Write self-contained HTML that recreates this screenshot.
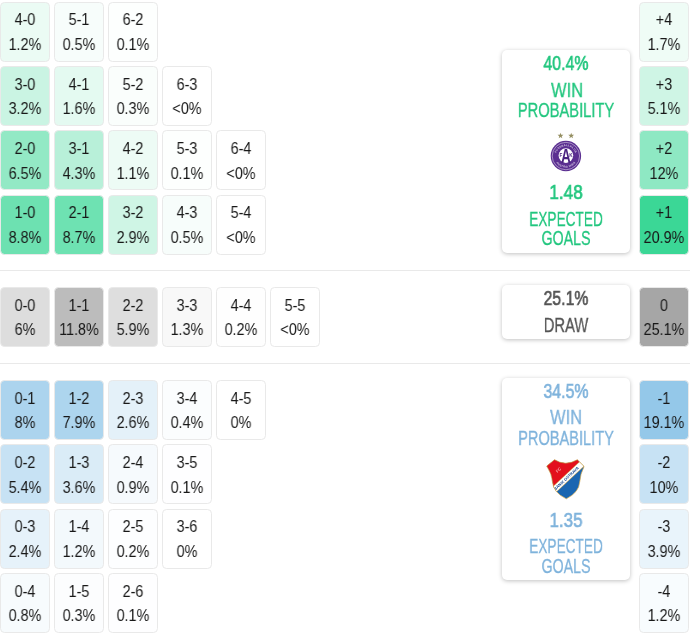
<!DOCTYPE html>
<html lang="en">
<head>
<meta charset="utf-8">
<title>Score probabilities</title>
<style>
html,body{margin:0;padding:0;background:#fff;}
body{width:690px;height:633px;position:relative;overflow:hidden;font-family:"Liberation Sans",sans-serif;color:#181818;}
.c{position:absolute;box-sizing:border-box;border:1px solid #e9e9e9;border-radius:4.5px;background-clip:padding-box;text-align:center;overflow:hidden;}
.c span{will-change:transform;display:block;position:absolute;left:-10px;right:-10px;font-size:16.9px;line-height:20px;transform:scaleX(.85);transform-origin:50% 50%;white-space:nowrap;}
.c .s{top:7.65px;}
.c .p{top:32.35px;}
.hr{position:absolute;left:0;width:690px;height:1px;background:#e9e9e9;}
.box{position:absolute;box-sizing:border-box;background:#fff;border-radius:5px;box-shadow:0 1px 4px rgba(0,0,0,.25);text-align:center;}
.box span{will-change:transform;display:block;position:absolute;width:200px;white-space:nowrap;transform-origin:50% 50%;line-height:22px;}
.box .n{font-weight:normal;font-size:19.6px;-webkit-text-stroke:0.65px currentColor;}
.box .t{font-size:19.6px;-webkit-text-stroke:0.3px currentColor;}
.g{color:#21c67e;}
.b{color:#7fb3dc;}
.k{color:#555;}
.logo{position:absolute;will-change:transform;}
</style>
</head>
<body>
<div class="c" style="left:0.3px;top:1.6px;width:49.9px;height:60.1px;background:rgb(235,251,244)"><span class="s">4-0</span><span class="p">1.2%</span></div>
<div class="c" style="left:54.3px;top:1.6px;width:49.9px;height:60.1px;background:rgb(247,253,251)"><span class="s">5-1</span><span class="p">0.5%</span></div>
<div class="c" style="left:108.2px;top:1.6px;width:49.9px;height:60.1px;background:rgb(253,255,254)"><span class="s">6-2</span><span class="p">0.1%</span></div>
<div class="c" style="left:0.3px;top:65.9px;width:49.9px;height:60.1px;background:rgb(202,244,227)"><span class="s">3-0</span><span class="p">3.2%</span></div>
<div class="c" style="left:54.3px;top:65.9px;width:49.9px;height:60.1px;background:rgb(228,250,241)"><span class="s">4-1</span><span class="p">1.6%</span></div>
<div class="c" style="left:108.2px;top:65.9px;width:49.9px;height:60.1px;background:rgb(250,254,252)"><span class="s">5-2</span><span class="p">0.3%</span></div>
<div class="c" style="left:162.2px;top:65.9px;width:49.9px;height:60.1px;background:rgb(255,255,255)"><span class="s">6-3</span><span class="p">&lt;0%</span></div>
<div class="c" style="left:0.3px;top:130.2px;width:49.9px;height:60.1px;background:rgb(147,233,197)"><span class="s">2-0</span><span class="p">6.5%</span></div>
<div class="c" style="left:54.3px;top:130.2px;width:49.9px;height:60.1px;background:rgb(184,240,217)"><span class="s">3-1</span><span class="p">4.3%</span></div>
<div class="c" style="left:108.2px;top:130.2px;width:49.9px;height:60.1px;background:rgb(237,251,245)"><span class="s">4-2</span><span class="p">1.1%</span></div>
<div class="c" style="left:162.2px;top:130.2px;width:49.9px;height:60.1px;background:rgb(253,255,254)"><span class="s">5-3</span><span class="p">0.1%</span></div>
<div class="c" style="left:216.2px;top:130.2px;width:49.9px;height:60.1px;background:rgb(255,255,255)"><span class="s">6-4</span><span class="p">&lt;0%</span></div>
<div class="c" style="left:0.3px;top:194.6px;width:49.9px;height:60.1px;background:rgb(109,225,177)"><span class="s">1-0</span><span class="p">8.8%</span></div>
<div class="c" style="left:54.3px;top:194.6px;width:49.9px;height:60.1px;background:rgb(110,226,178)"><span class="s">2-1</span><span class="p">8.7%</span></div>
<div class="c" style="left:108.2px;top:194.6px;width:49.9px;height:60.1px;background:rgb(207,245,229)"><span class="s">3-2</span><span class="p">2.9%</span></div>
<div class="c" style="left:162.2px;top:194.6px;width:49.9px;height:60.1px;background:rgb(247,253,251)"><span class="s">4-3</span><span class="p">0.5%</span></div>
<div class="c" style="left:216.2px;top:194.6px;width:49.9px;height:60.1px;background:rgb(255,255,255)"><span class="s">5-4</span><span class="p">&lt;0%</span></div>
<div class="c" style="left:0.3px;top:286.9px;width:49.9px;height:60.1px;background:rgb(221,221,221)"><span class="s">0-0</span><span class="p">6%</span></div>
<div class="c" style="left:54.3px;top:286.9px;width:49.9px;height:60.1px;background:rgb(188,188,188)"><span class="s">1-1</span><span class="p">11.8%</span></div>
<div class="c" style="left:108.2px;top:286.9px;width:49.9px;height:60.1px;background:rgb(222,222,222)"><span class="s">2-2</span><span class="p">5.9%</span></div>
<div class="c" style="left:162.2px;top:286.9px;width:49.9px;height:60.1px;background:rgb(248,248,248)"><span class="s">3-3</span><span class="p">1.3%</span></div>
<div class="c" style="left:216.2px;top:286.9px;width:49.9px;height:60.1px;background:rgb(254,254,254)"><span class="s">4-4</span><span class="p">0.2%</span></div>
<div class="c" style="left:270.2px;top:286.9px;width:49.9px;height:60.1px;background:rgb(255,255,255)"><span class="s">5-5</span><span class="p">&lt;0%</span></div>
<div class="c" style="left:0.3px;top:380.1px;width:49.9px;height:60.1px;background:rgb(172,212,238)"><span class="s">0-1</span><span class="p">8%</span></div>
<div class="c" style="left:54.3px;top:380.1px;width:49.9px;height:60.1px;background:rgb(173,213,238)"><span class="s">1-2</span><span class="p">7.9%</span></div>
<div class="c" style="left:108.2px;top:380.1px;width:49.9px;height:60.1px;background:rgb(228,241,249)"><span class="s">2-3</span><span class="p">2.6%</span></div>
<div class="c" style="left:162.2px;top:380.1px;width:49.9px;height:60.1px;background:rgb(251,253,254)"><span class="s">3-4</span><span class="p">0.4%</span></div>
<div class="c" style="left:216.2px;top:380.1px;width:49.9px;height:60.1px;background:rgb(255,255,255)"><span class="s">4-5</span><span class="p">0%</span></div>
<div class="c" style="left:0.3px;top:444.4px;width:49.9px;height:60.1px;background:rgb(199,226,244)"><span class="s">0-2</span><span class="p">5.4%</span></div>
<div class="c" style="left:54.3px;top:444.4px;width:49.9px;height:60.1px;background:rgb(218,236,247)"><span class="s">1-3</span><span class="p">3.6%</span></div>
<div class="c" style="left:108.2px;top:444.4px;width:49.9px;height:60.1px;background:rgb(246,250,253)"><span class="s">2-4</span><span class="p">0.9%</span></div>
<div class="c" style="left:162.2px;top:444.4px;width:49.9px;height:60.1px;background:rgb(254,254,255)"><span class="s">3-5</span><span class="p">0.1%</span></div>
<div class="c" style="left:0.3px;top:508.8px;width:49.9px;height:60.1px;background:rgb(230,242,250)"><span class="s">0-3</span><span class="p">2.4%</span></div>
<div class="c" style="left:54.3px;top:508.8px;width:49.9px;height:60.1px;background:rgb(243,249,252)"><span class="s">1-4</span><span class="p">1.2%</span></div>
<div class="c" style="left:108.2px;top:508.8px;width:49.9px;height:60.1px;background:rgb(253,254,255)"><span class="s">2-5</span><span class="p">0.2%</span></div>
<div class="c" style="left:162.2px;top:508.8px;width:49.9px;height:60.1px;background:rgb(255,255,255)"><span class="s">3-6</span><span class="p">0%</span></div>
<div class="c" style="left:0.3px;top:573.1px;width:49.9px;height:60.1px;background:rgb(247,251,253)"><span class="s">0-4</span><span class="p">0.8%</span></div>
<div class="c" style="left:54.3px;top:573.1px;width:49.9px;height:60.1px;background:rgb(252,253,254)"><span class="s">1-5</span><span class="p">0.3%</span></div>
<div class="c" style="left:108.2px;top:573.1px;width:49.9px;height:60.1px;background:rgb(254,254,255)"><span class="s">2-6</span><span class="p">0.1%</span></div>
<div class="c" style="left:639.1px;top:1.6px;width:49.9px;height:60.1px;background:rgb(239,252,246)"><span class="s">+4</span><span class="p">1.7%</span></div>
<div class="c" style="left:639.1px;top:65.9px;width:49.9px;height:60.1px;background:rgb(207,245,229)"><span class="s">+3</span><span class="p">5.1%</span></div>
<div class="c" style="left:639.1px;top:130.2px;width:49.9px;height:60.1px;background:rgb(142,232,195)"><span class="s">+2</span><span class="p">12%</span></div>
<div class="c" style="left:639.1px;top:194.6px;width:49.9px;height:60.1px;background:rgb(59,215,150)"><span class="s">+1</span><span class="p">20.9%</span></div>
<div class="c" style="left:639.1px;top:286.9px;width:49.9px;height:60.1px;background:rgb(166,166,166)"><span class="s">0</span><span class="p">25.1%</span></div>
<div class="c" style="left:639.1px;top:380.1px;width:49.9px;height:60.1px;background:rgb(148,200,233)"><span class="s">-1</span><span class="p">19.1%</span></div>
<div class="c" style="left:639.1px;top:444.4px;width:49.9px;height:60.1px;background:rgb(199,226,244)"><span class="s">-2</span><span class="p">10%</span></div>
<div class="c" style="left:639.1px;top:508.8px;width:49.9px;height:60.1px;background:rgb(233,244,251)"><span class="s">-3</span><span class="p">3.9%</span></div>
<div class="c" style="left:639.1px;top:573.1px;width:49.9px;height:60.1px;background:rgb(248,252,254)"><span class="s">-4</span><span class="p">1.2%</span></div>

<div class="hr" style="top:270px"></div>
<div class="hr" style="top:363px"></div>

<div class="box g" style="left:501.6px;top:50.0px;width:128.6px;height:202.5px">
<span class="n" style="left:-35.73px;top:2.13px;transform:scaleX(0.811)">40.4%</span>
<span class="t" style="left:-35.05px;top:28.93px;transform:scaleX(0.842)">WIN</span>
<span class="t" style="left:-35.56px;top:48.93px;transform:scaleX(0.750)">PROBABILITY</span>
<span class="n" style="left:-35.44px;top:131.13px;transform:scaleX(0.875)">1.48</span>
<span class="t" style="left:-35.36px;top:157.93px;transform:scaleX(0.697)">EXPECTED</span>
<span class="t" style="left:-35.34px;top:177.33px;transform:scaleX(0.725)">GOALS</span>
</div>
<div class="box k" style="left:501.6px;top:285.0px;width:128.6px;height:53.8px">
<span class="n" style="left:-35.69px;top:2.23px;transform:scaleX(0.806)">25.1%</span>
<span class="t" style="left:-35.99px;top:28.53px;transform:scaleX(0.754)">DRAW</span>
</div>
<div class="box b" style="left:501.6px;top:377.5px;width:128.6px;height:202.8px">
<span class="n" style="left:-35.86px;top:2.33px;transform:scaleX(0.812)">34.5%</span>
<span class="t" style="left:-35.61px;top:28.43px;transform:scaleX(0.840)">WIN</span>
<span class="t" style="left:-35.76px;top:49.13px;transform:scaleX(0.744)">PROBABILITY</span>
<span class="n" style="left:-35.64px;top:131.03px;transform:scaleX(0.864)">1.35</span>
<span class="t" style="left:-35.36px;top:157.73px;transform:scaleX(0.697)">EXPECTED</span>
<span class="t" style="left:-35.34px;top:177.63px;transform:scaleX(0.725)">GOALS</span>
</div>

<svg class="logo" style="left:545px;top:128px" width="42" height="48" viewBox="0 0 42 48">
<polygon points="15.50,4.70 16.26,6.75 18.45,6.84 16.74,8.20 17.32,10.31 15.50,9.10 13.68,10.31 14.26,8.20 12.55,6.84 14.74,6.75" fill="#958f62"/>
<polygon points="26.20,4.70 26.96,6.75 29.15,6.84 27.44,8.20 28.02,10.31 26.20,9.10 24.38,10.31 24.96,8.20 23.25,6.84 25.44,6.75" fill="#958f62"/>
<circle cx="20.9" cy="28.05" r="15.2" fill="#5b2f91"/>
<circle cx="20.9" cy="28.05" r="13.7" fill="none" stroke="#fff" stroke-width="0.55" opacity=".85"/>
<circle cx="20.9" cy="27.6" r="7.3" fill="#fff"/>
<defs><path id="ra" d="M10.9 28.05 A10 10 0 0 1 30.9 28.05"/><path id="rb" d="M9.3 28.05 A11.6 11.6 0 0 0 32.5 28.05"/></defs>
<text font-family="'Liberation Sans',sans-serif" font-weight="bold" font-size="2.7" fill="#fff" opacity=".7" letter-spacing=".25"><textPath href="#ra" startOffset="50%" text-anchor="middle">FUSSBALLKLUB</textPath></text>
<text font-family="'Liberation Sans',sans-serif" font-weight="bold" font-size="2.7" fill="#fff" opacity=".7" letter-spacing=".25"><textPath href="#rb" startOffset="50%" text-anchor="middle">AUSTRIA WIEN</textPath></text>
<text x="20.9" y="35.2" text-anchor="middle" font-family="'Liberation Sans',sans-serif" font-weight="bold" font-size="19.5" fill="#4a2380" transform="translate(20.9 0) scale(.7 1) translate(-20.9 0)">A</text>
<text x="15.9" y="29.0" text-anchor="middle" font-family="'Liberation Sans',sans-serif" font-weight="bold" font-size="4.6" fill="#4a2380">F</text>
<text x="26.0" y="29.0" text-anchor="middle" font-family="'Liberation Sans',sans-serif" font-weight="bold" font-size="4.6" fill="#4a2380">K</text>
</svg>
<svg class="logo" style="left:542px;top:454px" width="48" height="48" viewBox="0 0 48 48">
<defs><clipPath id="sh"><path d="M12.5 5.7 Q23.6 12.6 35.3 5.7 L42.1 12.4 Q38.2 20 37.7 28 Q37 38.5 24.3 44.8 Q11.2 38.5 10.5 28 Q10 20 4.7 12.1 Z"/></clipPath></defs>
<g clip-path="url(#sh)">
<rect x="0" y="0" width="48" height="48" fill="#1a66b1"/>
<g transform="translate(24.3 24.4) rotate(-43)">
<rect x="-32" y="-43" width="64" height="41" fill="#e3101c"/>
<rect x="-32" y="-3.3" width="64" height="6.6" fill="#d3a955"/>
<rect x="-32" y="-2.85" width="64" height="5.7" fill="#fff"/>
<text x="0" y="1.45" text-anchor="middle" font-family="'Liberation Sans',sans-serif" font-weight="bold" font-size="4" fill="#164a90" textLength="32.5" lengthAdjust="spacing">BANIK OSTRAVA</text>
<text x="0" y="-10" text-anchor="middle" font-family="'Liberation Sans',sans-serif" font-weight="bold" font-size="4.3" fill="#fff" opacity=".6">FC</text>
</g>
</g>
<path d="M12.5 5.7 Q23.6 12.6 35.3 5.7 L42.1 12.4 Q38.2 20 37.7 28 Q37 38.5 24.3 44.8 Q11.2 38.5 10.5 28 Q10 20 4.7 12.1 Z" fill="none" stroke="#d6a94e" stroke-width=".7" stroke-linejoin="round"/>
</svg>

</body>
</html>
